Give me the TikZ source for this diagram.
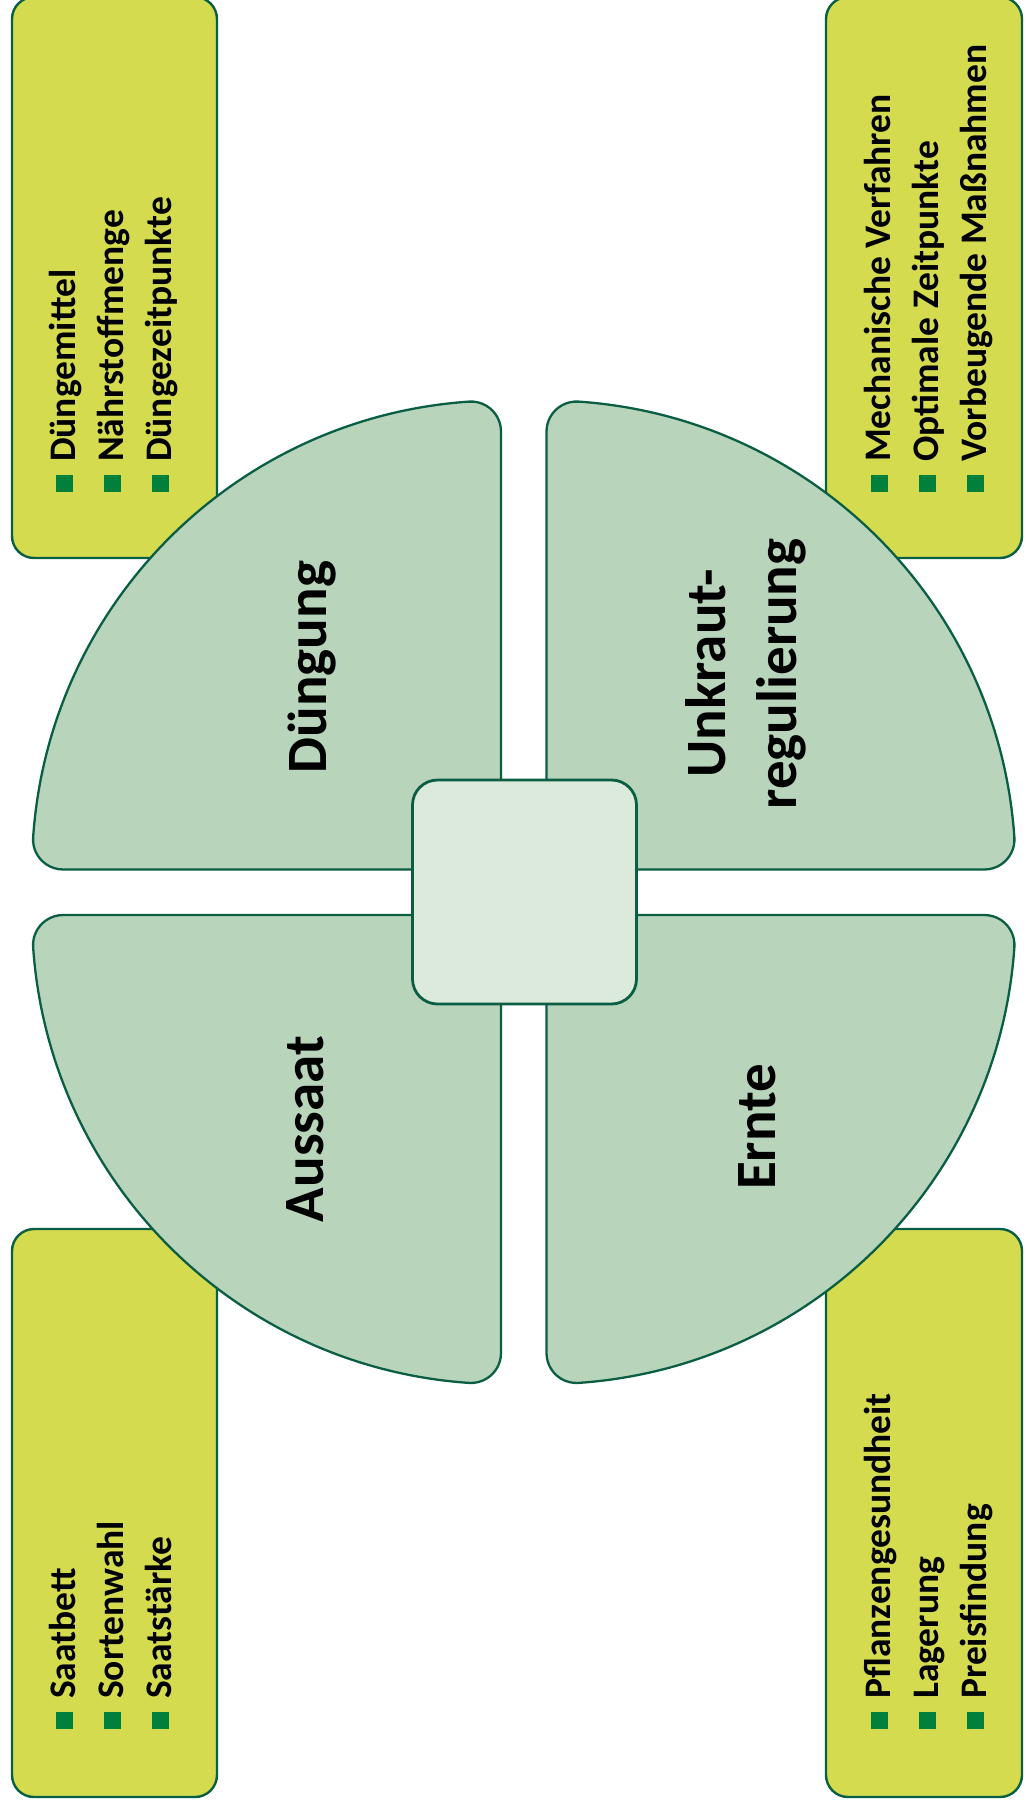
\documentclass[tikz,border=0pt]{standalone}
\usepackage{fontspec}
\setmainfont{Carlito}
\definecolor{boxyellow}{HTML}{D5DB4F}
\definecolor{quadfill}{HTML}{B8D5BB}
\definecolor{hubfill}{HTML}{DCEADC}
\definecolor{dkgreen}{HTML}{0A5E43}
\definecolor{bulgreen}{HTML}{00803A}
\begin{document}
\begin{tikzpicture}[x=1pt,y=1pt]
\tikzset{
  quad/.style={fill=quadfill, draw=dkgreen, line width=2.3pt},
  infobox/.style={fill=boxyellow, draw=dkgreen, line width=2.4pt, rounded corners=22pt},
  bul/.style={fill=bulgreen, minimum size=17pt, inner sep=0pt, outer sep=0pt, draw=none},
  item/.style={rotate=90, anchor=base west, inner sep=0pt, font=\fontsize{37.5}{46}\selectfont\bfseries},
  biglabel/.style={rotate=90, anchor=base, inner sep=0pt, font=\fontsize{57}{68}\selectfont\bfseries},
  quadpic/.pic={\draw[quad] (0,0) -- (0,437.97) arc[start angle=0,end angle=93.92,radius=30]
      arc[start angle=93.92,end angle=176.08,radius=469]
      arc[start angle=176.08,end angle=270,radius=30] -- cycle;}
}
\fill[white] (0,0) rectangle (1025,-1809);
\useasboundingbox (0,0) rectangle (1025,-1809);

% info boxes
\draw[infobox] (12,3) rectangle (217,-558);
\draw[infobox] (826,3) rectangle (1022,-558);
\draw[infobox] (12,-1229) rectangle (217,-1797);
\draw[infobox] (826,-1229) rectangle (1022,-1797);

% quadrants
\pic at (501,-869.5) {quadpic};
\pic[xscale=-1] at (546.5,-869.5) {quadpic};
\pic[yscale=-1] at (501,-915) {quadpic};
\pic[xscale=-1,yscale=-1] at (546.5,-915) {quadpic};

% hub
\node[draw=dkgreen, fill=hubfill, line width=2.8pt, rounded corners=25pt,
      minimum size=224pt, inner sep=0pt] (hub) at (524.5,-892) {};

% big labels
\node[biglabel] (dueng) at (326.7,-667) {Düngung};
\node[biglabel] (unk1) at (725,-673) {Unkraut-};
\node[biglabel] (unk2) at (796.7,-674) {regulierung};
\node[biglabel] (auss) at (323.3,-1129) {Aussaat};
\node[biglabel] (ernte) at (775,-1127) {Ernte};

% top-left items
\node[bul] (b11) at (64.5,-483.5) {};
\node[bul] (b12) at (112.5,-483.5) {};
\node[bul] (b13) at (160.5,-483.5) {};
\node[item] (t11) at (75,-462) {Düngemittel};
\node[item] (t12) at (123,-462) {Nährstoffmenge};
\node[item] (t13) at (171,-462) {Düngezeitpunkte};

% top-right items
\node[bul] (b21) at (879.5,-483.5) {};
\node[bul] (b22) at (927.5,-483.5) {};
\node[bul] (b23) at (975.5,-483.5) {};
\node[item] (t21) at (890,-462) {Mechanische Verfahren};
\node[item] (t22) at (938,-462) {Optimale Zeitpunkte};
\node[item] (t23) at (986,-462) {Vorbeugende Maßnahmen};

% bottom-left items
\node[bul] (b31) at (64.5,-1720.5) {};
\node[bul] (b32) at (112.5,-1720.5) {};
\node[bul] (b33) at (160.5,-1720.5) {};
\node[item] (t31) at (75,-1699) {Saatbett};
\node[item] (t32) at (123,-1699) {Sortenwahl};
\node[item] (t33) at (171,-1699) {Saatstärke};

% bottom-right items
\node[bul] (b41) at (879.5,-1720.5) {};
\node[bul] (b42) at (927.5,-1720.5) {};
\node[bul] (b43) at (975.5,-1720.5) {};
\node[item] (t41) at (890,-1699) {Pflanzengesundheit};
\node[item] (t42) at (938,-1699) {Lagerung};
\node[item] (t43) at (986,-1699) {Preisfindung};
\end{tikzpicture}
\end{document}
